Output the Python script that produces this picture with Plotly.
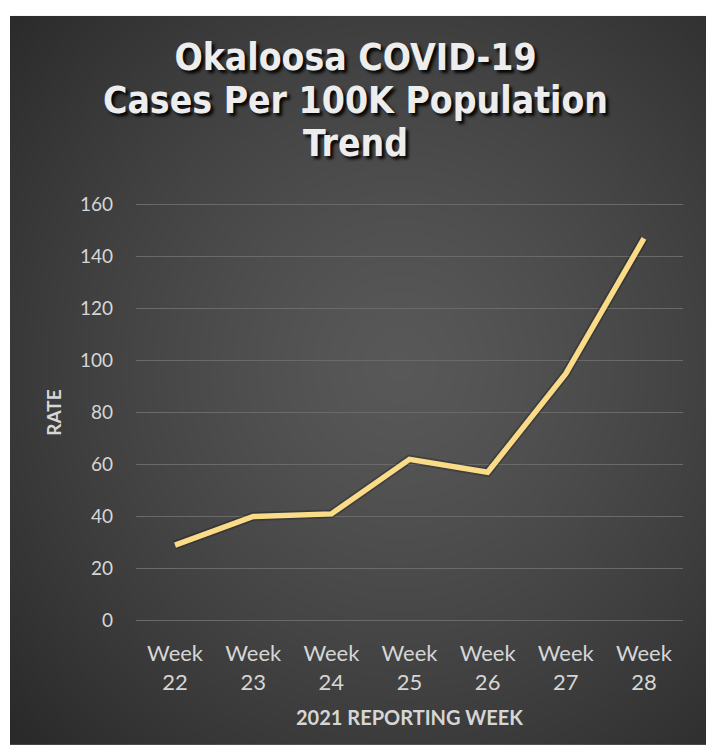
import numpy as np
import plotly.graph_objects as go

# ---- data ----
weeks = ["Week 22", "Week 23", "Week 24", "Week 25", "Week 26", "Week 27", "Week 28"]
rates = [29, 40, 41, 62, 57, 95, 147]
y_ticks = [0, 20, 40, 60, 80, 100, 120, 140, 160]
title_lines = ["Okaloosa COVID-19", "Cases Per 100K Population", "Trend"]
x_title = "2021 REPORTING WEEK"
y_title = "RATE"

W, H = 711, 754

# ---- background radial gradient (decoration) ----
gx = np.linspace(0, 1, 80)
gy = np.linspace(0, 1, 80)
X, Y = np.meshgrid(gx, gy)
cx, cy = 0.56, 0.52
rr = np.sqrt(((X - cx) / 0.55) ** 2 + ((Y - cy) / 0.55) ** 2)
t = np.clip(rr / 1.35, 0, 1)
bg = 88 - 46 * t ** 1.3

fig = go.Figure()
fig.add_trace(go.Heatmap(
    z=bg, x=gx, y=gy, xaxis="x", yaxis="y",
    colorscale=[[0, "rgb(0,0,0)"], [1, "rgb(255,255,255)"]],
    zmin=0, zmax=255, zsmooth="best", showscale=False, hoverinfo="skip",
))

# soft shadow under line
fig.add_trace(go.Scatter(
    x=weeks, y=rates, xaxis="x2", yaxis="y2", mode="lines",
    line=dict(color="rgba(0,0,0,0.22)", width=9), hoverinfo="skip", showlegend=False,
))
fig.add_trace(go.Scatter(
    x=weeks, y=rates, xaxis="x2", yaxis="y2", mode="lines",
    line=dict(color="#fadb88", width=5.5), showlegend=False,
))
# invisible carrier for the second row of category labels (week numbers)
fig.add_trace(go.Scatter(
    x=list(range(len(weeks))), y=rates, xaxis="x3", yaxis="y2", mode="lines",
    line=dict(width=0, color="rgba(0,0,0,0)"), hoverinfo="skip", showlegend=False,
))

lab_color = "#d6d6d6"
fam = "Lato, Open Sans, sans-serif"
x0, x1 = 136 / W, 683 / W
ppu = (626 - 199) / 160.0
ylo, yhi = -0.5, 160.5
y0 = 1 - (626 + 0.5 * ppu) / H
y1 = 1 - (199 - 0.5 * ppu) / H

fig.update_layout(
    width=W, height=H,
    margin=dict(l=0, r=0, t=0, b=0),
    paper_bgcolor="white",
    plot_bgcolor="rgba(0,0,0,0)",
    showlegend=False,
    title=dict(
        text="<br>".join('<span style="font-size:37px">%s</span>' % s for s in title_lines),
        x=0.5, xanchor="center", xref="paper",
        y=1 - 70 / H, yanchor="top",
        font=dict(family="DejaVu Sans Condensed, DejaVu Sans, sans-serif",
                  size=33, color="#ededed", weight="bold",
                  shadow="3px 3px 3px rgba(0,0,0,0.9)"),
    ),
    xaxis=dict(domain=[10 / W, 706 / W], range=[0, 1], visible=False, fixedrange=True),
    yaxis=dict(domain=[0, 1 - 5 / H], range=[0, 1], visible=False, fixedrange=True),
    xaxis2=dict(
        domain=[x0, x1], anchor="y2", type="category",
        categoryorder="array", categoryarray=weeks, range=[-0.5, len(weeks) - 0.5],
        tickvals=weeks, ticktext=[w.split()[0] for w in weeks],
        showgrid=False, zeroline=False, showline=False, ticks="",
        tickfont=dict(family=fam, size=22, color=lab_color),
        ticklabelstandoff=16,
        title=dict(text=x_title, standoff=46,
                   font=dict(family=fam, size=20, color=lab_color, weight="bold")),
    ),
    xaxis3=dict(
        overlaying="x2", anchor="y2", side="bottom", type="linear",
        range=[-0.5, len(weeks) - 0.5],
        tickvals=list(range(len(weeks))), ticktext=[w.split()[1] for w in weeks],
        showgrid=False, zeroline=False, showline=False, ticks="",
        tickfont=dict(family=fam, size=22, color=lab_color),
        ticklabelstandoff=45,
    ),
    yaxis2=dict(
        domain=[y0, y1], anchor="x2", range=[ylo, yhi],
        tickvals=y_ticks, ticks="",
        showgrid=True, gridcolor="#6a6a6a", gridwidth=1,
        zeroline=False, showline=False,
        tickfont=dict(family=fam, size=19, color=lab_color), ticklabelstandoff=22,
        title=dict(text=y_title, standoff=13,
                   font=dict(family=fam, size=19, color=lab_color, weight="bold")),
    ),
)

fig.write_html("out.html")
